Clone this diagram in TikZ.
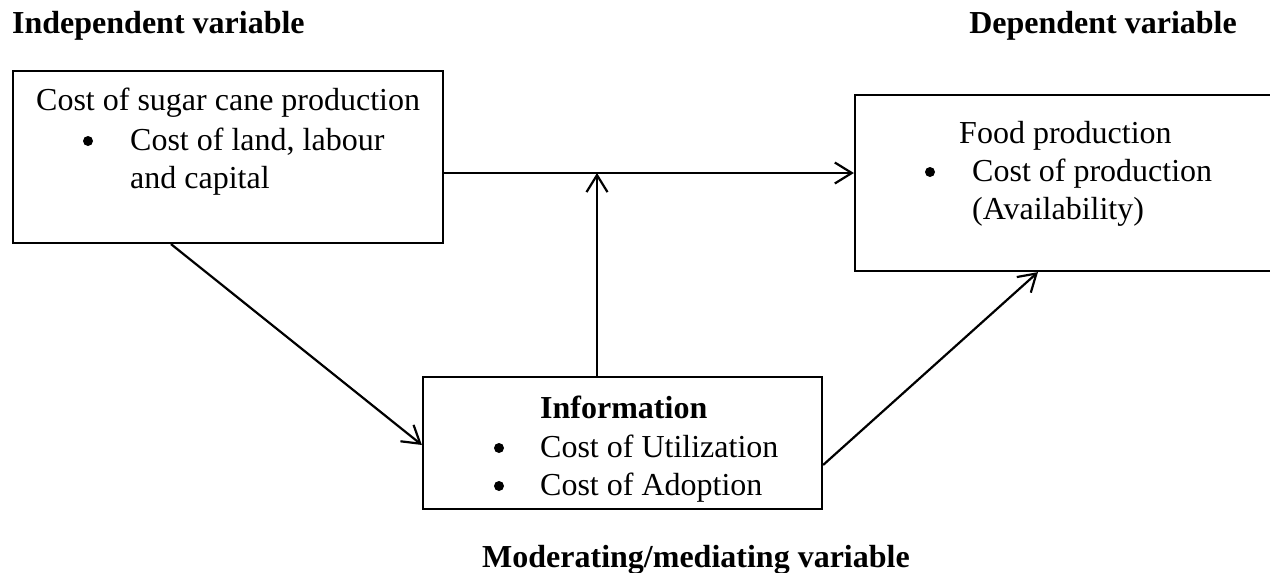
\documentclass[tikz,border=0pt]{standalone}
\usepackage{fontspec}
\setmainfont{Liberation Serif}
\usetikzlibrary{arrows.meta}
\begin{document}
\begin{tikzpicture}[x=1pt,y=-1pt,
  box/.style={draw=black,line width=2.2pt,rectangle,inner sep=0pt},
  txt/.style={anchor=base west,inner sep=0pt,font=\fontsize{32}{39}\selectfont},
  btxt/.style={txt,font=\fontsize{32}{39}\selectfont\bfseries},
  bul/.style={circle,fill=black,inner sep=0pt,minimum size=10pt},
  arr/.style={line width=2.2pt,-{Straight Barb[length=17pt,width=21pt,line width=2.2pt]}}]
\useasboundingbox (0,0) rectangle (1270,573);
% boxes
\node[box,minimum width=430pt,minimum height=172pt] (A) at (228,157) {};
\node[box,minimum width=430pt,minimum height=176pt] (C) at (1070,183) {};
\node[box,minimum width=399pt,minimum height=132pt] (B) at (622.5,443) {};
% headings
\node[btxt] (hind) at (12,33) {Independent variable};
\node[btxt,anchor=base east] (hdep) at (1237,33) {Dependent variable};
\node[btxt] (hmod) at (482,567) {Moderating/mediating variable};
% box A text
\node[txt] (a1) at (36,110) {Cost of sugar cane production};
\node[bul] (ab) at (88,141) {};
\node[txt] (a2) at (130,150) {Cost of land, labour};
\node[txt] (a3) at (130,188) {and capital};
% box C text
\node[txt] (c1) at (959,143) {Food production};
\node[bul] (cb) at (930,172) {};
\node[txt] (c2) at (972,181) {Cost of production};
\node[txt] (c3) at (972,219) {(Availability)};
% box B text
\node[btxt] (b1) at (540,418) {Information};
\node[bul] (bb1) at (499,448) {};
\node[txt] (b2) at (540,457) {Cost of Utilization};
\node[bul] (bb2) at (499,486) {};
\node[txt] (b3) at (540,495) {Cost of Adoption};
% connectors
\coordinate (j) at (597,173);
\draw[arr] (A.east |- j) -- (C.west |- j);
\draw[arr] (B.north -| j) -- (j);
\draw[arr] ([xshift=-57pt]A.south) -- ([yshift=-2pt]B.west);
\draw[arr] ([yshift=-22pt]B.east) -- ([xshift=-32pt]C.south);
\end{tikzpicture}
\end{document}
